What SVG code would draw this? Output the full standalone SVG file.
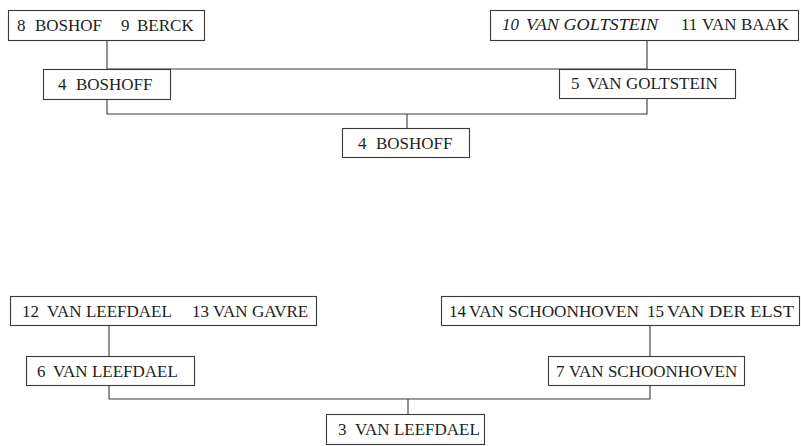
<svg xmlns="http://www.w3.org/2000/svg" width="801" height="446" viewBox="0 0 801 446">
<style>
.box{fill:#fff;stroke:#3a3a3a;stroke-width:1.1}
.ln{fill:none;stroke:#3a3a3a;stroke-width:1.1}
text{font-family:"Liberation Serif","Times New Roman",serif;font-size:17px;fill:#1e1e1e}
.it{font-style:italic}
</style>
<rect width="801" height="446" fill="#fff"/>
<g id="connectors">
<path class="ln" d="M107 40V69H647M647 40V69"/>
<path class="ln" d="M107 99V114H647V98M407 114V128"/>
<path class="ln" d="M109 325V356M650 325V356"/>
<path class="ln" d="M109 385V399H650V385M408 399V414"/>
</g>
<g id="n8_9"><rect class="box" x="8.5" y="10.5" width="196" height="30"/>
<text x="17" y="31">8</text><text x="35" y="31">BOSHOF</text><text x="121" y="31">9</text><text x="137" y="31">BERCK</text></g>
<g id="n10_11"><rect class="box" x="490.5" y="10.5" width="308" height="30"/>
<text class="it" x="502" y="30">10</text><text class="it" x="526" y="30" textLength="132" lengthAdjust="spacingAndGlyphs">VAN GOLTSTEIN</text><text x="681" y="30">11</text><text x="702" y="30">VAN BAAK</text></g>
<g id="n4a"><rect class="box" x="43.5" y="69.5" width="127" height="30"/>
<text x="58" y="90">4</text><text x="76" y="90">BOSHOFF</text></g>
<g id="n5"><rect class="box" x="559.5" y="69.5" width="176" height="29"/>
<text x="571" y="89">5</text><text x="587" y="89">VAN GOLTSTEIN</text></g>
<g id="n4b"><rect class="box" x="342.5" y="128.5" width="127" height="29"/>
<text x="358" y="149">4</text><text x="376" y="149">BOSHOFF</text></g>
<g id="n12_13"><rect class="box" x="10.5" y="296.5" width="306" height="29"/>
<text x="22" y="317">12</text><text x="47" y="317">VAN LEEFDAEL</text><text x="192" y="317">13</text><text x="213" y="317">VAN GAVRE</text></g>
<g id="n14_15"><rect class="box" x="441.5" y="296.5" width="358" height="29"/>
<text x="449" y="317">14</text><text x="469" y="317" textLength="170" lengthAdjust="spacingAndGlyphs">VAN SCHOONHOVEN</text><text x="647" y="317">15</text><text x="667" y="317" textLength="127" lengthAdjust="spacingAndGlyphs">VAN DER ELST</text></g>
<g id="n6"><rect class="box" x="26.5" y="356.5" width="168" height="29"/>
<text x="37" y="377">6</text><text x="53" y="377">VAN LEEFDAEL</text></g>
<g id="n7"><rect class="box" x="548.5" y="356.5" width="196" height="29"/>
<text x="556" y="377">7</text><text x="569" y="377">VAN SCHOONHOVEN</text></g>
<g id="n3"><rect class="box" x="326.5" y="414.5" width="158" height="30"/>
<text x="338" y="435">3</text><text x="355" y="435">VAN LEEFDAEL</text></g>
</svg>
